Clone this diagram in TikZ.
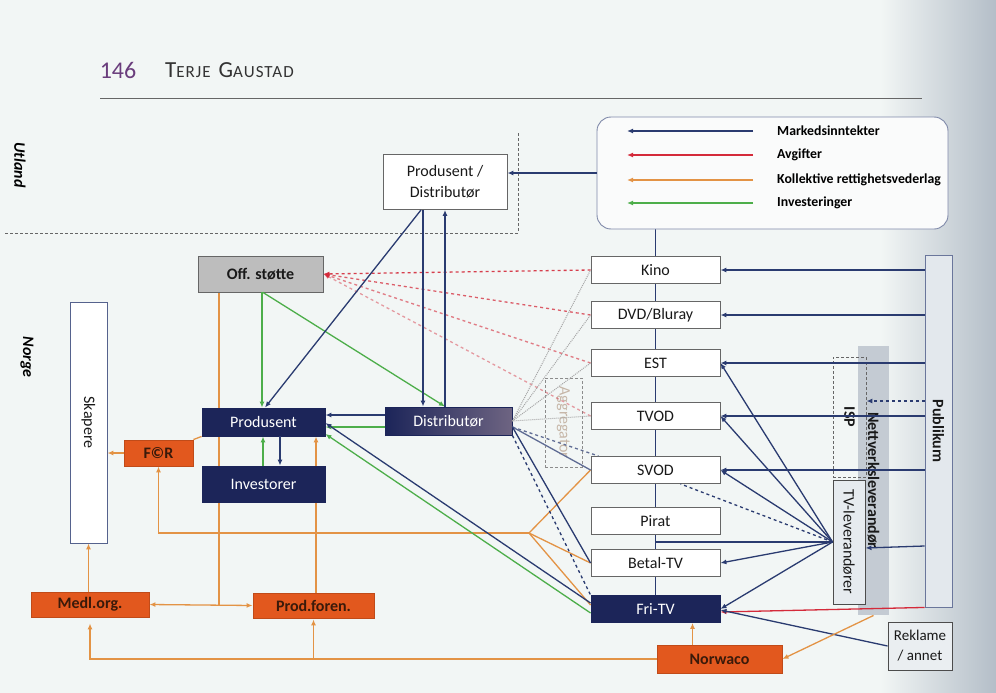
\documentclass[tikz,border=0pt]{standalone}
\usepackage{fontspec}
\setmainfont{Carlito}
\usetikzlibrary{arrows.meta,calc}

\definecolor{navy}{HTML}{1C2559}
\definecolor{mkblue}{HTML}{2A3B70}
\definecolor{avgred}{HTML}{D42A3A}
\definecolor{kolorange}{HTML}{E39345}
\definecolor{invgreen}{HTML}{4DAE4A}
\definecolor{orgfill}{HTML}{E2581E}
\definecolor{orgtext}{HTML}{3A1A0A}
\definecolor{stottefill}{HTML}{BDBDBD}
\definecolor{pagebg}{HTML}{F2F6F5}
\definecolor{pageedge}{HTML}{B4BEC8}
\definecolor{pubfill}{HTML}{DCE2E8}
\definecolor{bandfill}{HTML}{C4CBD3}
\definecolor{headpurple}{HTML}{6A3D7C}
\definecolor{distright}{HTML}{6E6482}

\newcommand\lblfont{\fontsize{16}{21}\selectfont}
\newcommand\legfont{\fontsize{13.8}{16}\selectfont\bfseries}

\pgfdeclarelayer{page}
\pgfdeclarelayer{behind}
\pgfsetlayers{page,behind,main}

\tikzset{
  plainbox/.style={draw=black!60, line width=0.9pt, fill=white, inner sep=0pt, align=center, font=\lblfont, text=black!90},
  chanbox/.style={plainbox, minimum width=129pt, minimum height=27pt},
  navybox/.style={plainbox, draw=navy, fill=navy, text=white, minimum width=123pt},
  orgbox/.style={plainbox, draw=orgfill!85!black, fill=orgfill, text=orgtext, font=\lblfont\bfseries},
  flowline/.style={line width=1.3pt, -{Latex[length=6pt,width=5pt]}},
  mkarrow/.style={flowline, draw=mkblue},
  avgarrow/.style={flowline, draw=avgred},
  kolarrow/.style={flowline, draw=kolorange},
  invarrow/.style={flowline, draw=invgreen},
  mkline/.style={line width=1.3pt, draw=mkblue},
  kolline/.style={line width=1.3pt, draw=kolorange},
  legtext/.style={anchor=west, inner sep=0pt, font=\legfont},
}

\begin{document}
\begin{tikzpicture}[x=1pt,y=-1pt]
%%%%% PAGE %%%%%
\begin{pgfonlayer}{page}
  \fill[pagebg] (0,0) rectangle (996,693);
  \shade[left color=pagebg, right color=pageedge] (880,0) rectangle (996,693);
\end{pgfonlayer}
\useasboundingbox (0,0) rectangle (996,693);

% header
\node[inner sep=0pt, text=headpurple, font=\fontsize{24}{24}\selectfont] (pagenum) at (118,70) {146};
\node[inner sep=0pt, anchor=west, text=black!80, font=\addfontfeature{LetterSpace=6}] (author) at (165,70)
  {{\fontsize{23}{23}\selectfont T}{\fontsize{17}{17}\selectfont ERJE}\hspace{8pt}{\fontsize{23}{23}\selectfont G}{\fontsize{17}{17}\selectfont AUSTAD}};
\draw[black!60, line width=1pt] (100,98) -- (922,98);

% Utland / Norge
\draw[black!60, densely dashed, line width=0.8pt] (5,233) -- (518,233) -- (518,133);
\node[font=\lblfont\bfseries\itshape] (utland) at (20,165) {\rotatebox{-90}{Utland}};
\node[font=\lblfont\bfseries\itshape] (norge) at (27,357) {\rotatebox{-90}{Norge}};

%%%%% NODES %%%%%
\node[plainbox, draw=mkblue!60, fill=pagebg!40!white, rounded corners=14pt, minimum width=351pt, minimum height=112pt] (legend) at (772.5,173) {};
\node[legtext] (lgmk) at (777,131) {Markedsinntekter};
\node[legtext] (lgavg) at (777,155) {Avgifter};
\node[legtext] (lgkol) at (777,180) {Kollektive rettighetsvederlag};
\node[legtext] (lginv) at (777,203) {Investeringer};

\node[plainbox, minimum width=124pt, minimum height=55pt] (fordist) at (445,182) {Produsent /\\Distributør};

\node[chanbox] (kino) at (655.5,270) {Kino};
\node[chanbox] (dvd) at (655.5,315) {DVD/Bluray};
\node[chanbox] (est) at (655.5,363) {EST};
\node[chanbox] (tvod) at (655.5,416) {TVOD};
\node[chanbox] (svod) at (655.5,470) {SVOD};
\node[chanbox] (pirat) at (655.5,521) {Pirat};
\node[chanbox] (betal) at (655.5,563) {Betal-TV};
\node[chanbox, draw=navy, fill=navy, text=white] (fritv) at (655.5,609) {Fri-TV};

\node[plainbox, draw=none, fill=bandfill, minimum width=31pt, minimum height=269pt] (nett) at (873.5,480.5) {\rotatebox{-90}{\bfseries Nettverksleverandør}};
\node[plainbox, fill=none, densely dashed, minimum width=33pt, minimum height=120pt] (isp) at (849.5,417) {\rotatebox{-90}{\bfseries ISP}};
\node[plainbox, draw=black!70, fill=pubfill!70, minimum width=32pt, minimum height=124pt] (tvlev) at (849,542) {\rotatebox{-90}{TV-leverandører}};
\node[plainbox, draw=mkblue!70, fill=pubfill!80, minimum width=27pt, minimum height=352pt] (publikum) at (938.5,431) {\rotatebox{-90}{\bfseries Publikum}};
\node[plainbox, draw=black!70, fill=pubfill!60, minimum width=64pt, minimum height=48pt, font=\fontsize{15}{20}\selectfont] (reklame) at (920,646) {Reklame\\/ annet};

\node[plainbox, fill=none, draw=black!45, densely dashed, minimum width=37pt, minimum height=89pt, text=kolorange!50!black!40] (aggregator) at (563.5,422.5) {\rotatebox{-90}{Aggregator}};

\node[plainbox, draw=black!60, fill=stottefill, minimum width=125pt, minimum height=36pt, font=\lblfont\bfseries] (offstotte) at (260.5,274) {Off. støtte};
\node[navybox, minimum height=28pt] (produsent) at (263.5,422) {Produsent};
\node[navybox, minimum height=36pt] (investorer) at (263.5,484) {Investorer};
\node[plainbox, draw=navy, left color=navy, right color=distright, text=white, minimum width=127pt, minimum height=28pt] (distributor) at (448.5,421) {Distributør};
\node[plainbox, draw=mkblue!80, minimum width=37pt, minimum height=241pt] (skapere) at (88.5,422.5) {\rotatebox{-90}{Skapere}};

\node[orgbox, minimum width=69pt, minimum height=26pt] (for) at (158.5,453) {F©R};
\node[orgbox, minimum width=118pt, minimum height=25pt] (medl) at (90,604.5) {Medl.org.};
\node[orgbox, minimum width=121pt, minimum height=25pt] (prodforen) at (313.5,605.5) {Prod.foren.};
\node[orgbox, minimum width=125pt, minimum height=28pt] (norwaco) at (719.5,659) {Norwaco};

\coordinate (tvhub) at (tvlev.west);
\coordinate (korhub) at (529,533);

%%%%% CONNECTORS %%%%%
% legend samples
\draw[mkarrow] ([xshift=-24pt]lgmk.west) -- ([xshift=-150pt]lgmk.west);
\draw[avgarrow] ([xshift=-24pt]lgavg.west) -- ([xshift=-150pt]lgavg.west);
\draw[kolarrow] ([xshift=-24pt]lgkol.west) -- ([xshift=-150pt]lgkol.west);
\draw[invarrow] ([xshift=-24pt]lginv.west) -- ([xshift=-150pt]lginv.west);

\begin{pgfonlayer}{behind}
  \draw[mkline] (kino.north |- legend.south) -- (fritv.north);
  \draw[kolline] ([xshift=-41.5pt]offstotte.south) -- ([xshift=-41.5pt]offstotte.south |- medl.east);
  \draw[kolarrow] ([xshift=2.5pt]prodforen.north) -- ([xshift=2.5pt]prodforen.north |- produsent.south);
  \draw[kolline] (for.north east) -- (produsent.south west);
\end{pgfonlayer}

\draw[mkarrow] (legend.west) -- (legend.west -| fordist.east);

% Publikum
\foreach \ch in {kino,dvd,est,tvod,svod}
  \draw[mkarrow] (publikum.west |- \ch) -- (\ch.east);
\draw[mkarrow, dashed] ([yshift=16pt]publikum.west |- isp) -- ([yshift=16pt]isp.east);
\draw[mkarrow] ([yshift=-4pt]publikum.west |- tvlev) -- ([yshift=-6pt]tvlev.east);
\draw[avgarrow] (publikum.south west) -- ([yshift=-3pt]fritv.east);

% TV-leverandører
\foreach \ch in {est,tvod,svod,betal,fritv}
  \draw[mkarrow] (tvhub) -- (\ch.east);
\draw[mkline, dashed] (tvhub) -- ([xshift=25pt]svod.south);
\draw[mkline] (tvhub) -- (tvhub -| pirat);

% Reklame
\draw[mkarrow] (reklame.west) -- ([yshift=-1pt]fritv.east);
\draw[kolarrow] (nett.south) -- (norwaco.east);

% Norwaco
\draw[kolarrow] ([xshift=-27pt]norwaco.north) -- ([xshift=-27pt]norwaco.north |- fritv.south);
\draw[kolarrow, shorten >=6pt] (norwaco.west) -| (medl.south);
\draw[kolarrow, shorten >=1pt] (prodforen.south |- norwaco.west) -- (prodforen.south);
\draw[kolarrow, {Latex[length=6pt,width=5pt]}-{Latex[length=6pt,width=5pt]}] (medl.east) -- (prodforen.west);
\draw[kolarrow] (skapere.south |- medl.north) -- (skapere.south);

% kollektive vederlag
\foreach \ch/\dy in {svod/0,betal/0,fritv/4}
  \draw[kolline] ([yshift=\dy pt]\ch.west) -- (korhub);
\draw[kolarrow] (korhub) -| (for.south);
\draw[kolarrow] (for.west) -- (skapere.east |- for.west);

% Off. støtte
\foreach \ch/\op in {kino/0.9,dvd/0.75,est/0.6,tvod/0.45}
  \draw[avgarrow, dashed, draw opacity=\op] (\ch.west) -- (offstotte.east);
\draw[invarrow] ([xshift=1.5pt]offstotte.south) -- ([xshift=1.5pt]offstotte.south |- produsent.north);
\draw[invarrow] ([xshift=2.5pt]offstotte.south) -- ([xshift=-3.5pt]distributor.north);

% Produsent / Investorer
\draw[invarrow] ([xshift=-0.5pt]investorer.north) -- ([xshift=-0.5pt]investorer.north |- produsent.south);
\draw[mkarrow] ([xshift=16.5pt]produsent.south) -- ([xshift=16.5pt]produsent.south |- investorer.north);

% Produsent / Distributør (utland)
\draw[mkarrow] ([xshift=-24pt]fordist.south) -- ([xshift=1.5pt]produsent.north);
\draw[mkarrow] ([xshift=-22pt]fordist.south) -- ([xshift=-22pt]fordist.south |- distributor.north);
\draw[mkarrow] ([xshift=-3.5pt]distributor.north) -- ([xshift=-3.5pt]distributor.north |- fordist.south);

% Distributør
\draw[mkarrow] ([yshift=6pt]distributor.west) -- ([yshift=6pt]distributor.west -| produsent.east);
\draw[invarrow] ([yshift=-6pt]distributor.west) -- ([yshift=-6pt]distributor.west -| produsent.east);
\foreach \ch in {kino,dvd,est,tvod}
  \draw[black!35, densely dotted, line width=1pt] (distributor.east) -- (\ch.west);
\draw[mkline, draw=mkblue!75] ([yshift=-6pt]distributor.east) -- (svod.west);
\draw[mkline, dashed, draw=mkblue!75] ([yshift=-6pt]distributor.east) -- ([xshift=8pt]svod.north west);
\draw[mkline] ([yshift=-6pt]distributor.east) -- (betal.west);
\draw[mkline, dashed] (distributor.south east) -- (fritv.north west);

% Fri-TV
\draw[mkarrow] ([yshift=6pt]fritv.west) -- ([yshift=-1pt]produsent.east);
\draw[invarrow] ([yshift=-4pt]fritv.west) -- ([yshift=-12pt]produsent.east);
\end{tikzpicture}
\end{document}
